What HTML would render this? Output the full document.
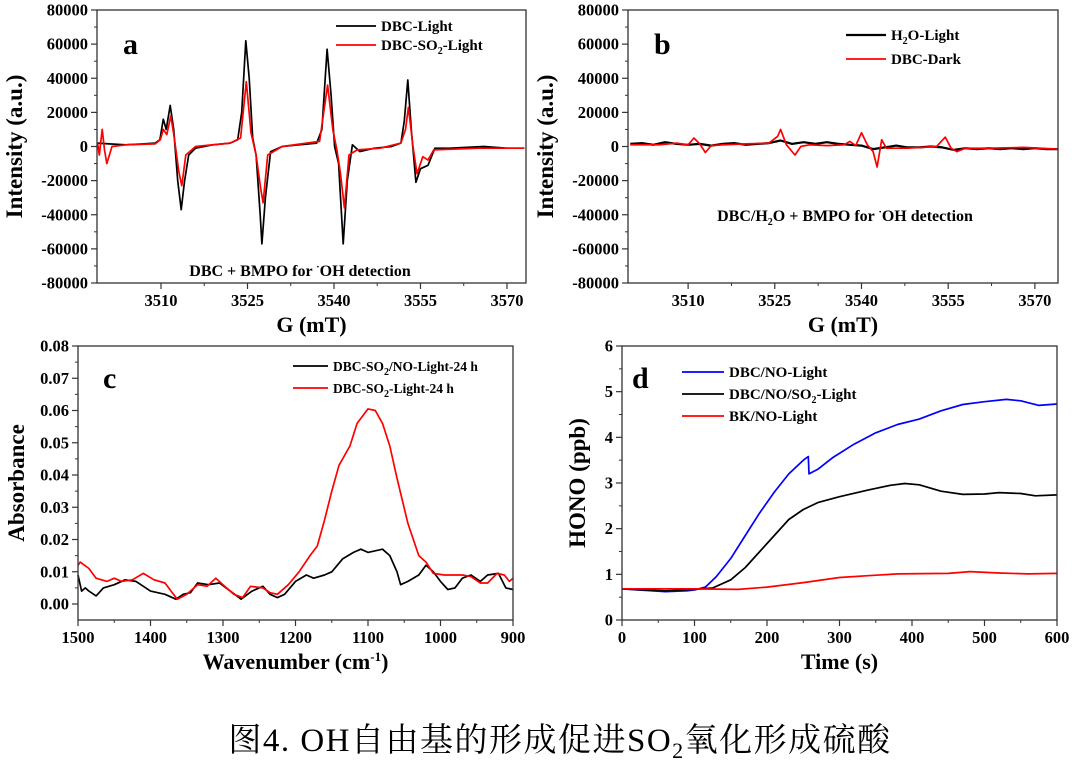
<!DOCTYPE html>
<html><head><meta charset="utf-8">
<style>
body{margin:0;background:#fff;}
svg{display:block;}
text{font-family:"Liberation Serif","Noto Serif CJK SC",serif;font-weight:bold;fill:#000;}
.cap{font-weight:normal;}
</style></head>
<body>
<svg id="fig" width="1080" height="767" viewBox="0 0 1080 767" xmlns="http://www.w3.org/2000/svg">
<text class="cap" x="560" y="751" font-size="33" letter-spacing="1.5" text-anchor="middle">图4. OH自由基的形成促进SO<tspan font-size="22" dy="7">2</tspan><tspan dy="-7">氧化形成硫酸</tspan></text>
</svg>
<script>
// Panel a data
const aLightX=[3499,3501,3504,3507,3509,3509.8,3510.4,3510.9,3511.6,3512.2,3512.9,3513.5,3514.1,3514.8,3516,3519,3522,3523.3,3524,3524.7,3525.3,3525.9,3526.5,3527.2,3527.5,3528.1,3529,3531,3534,3537,3537.9,3538.8,3539.5,3540.1,3540.8,3541.6,3542.3,3543.2,3544.5,3547,3550,3551.6,3552.2,3552.8,3553.4,3554.2,3555,3556.3,3557.5,3560,3566,3570,3573];
const aLightY=[2000,1500,1000,1500,2000,4000,16000,10000,24000,10000,-20000,-37000,-20000,-5000,-1000,1000,2000,4000,20000,62000,40000,5000,-5000,-40000,-57000,-30000,-3000,0,1000,2000,10000,57000,30000,0,-10000,-57000,-20000,1000,-3000,-1000,0,2000,15000,39000,10000,-21000,-13000,-11000,-1000,-1000,0,-1000,-1000];
const aSO2X=[3499,3499.3,3499.8,3500.2,3500.6,3501.5,3504,3509,3509.9,3510.4,3511,3511.7,3512.3,3513.1,3513.6,3514.3,3516,3522,3523.8,3524.8,3525.6,3526.5,3527.3,3527.7,3528.5,3531,3537.5,3538.9,3539.8,3540.5,3541.1,3541.8,3542.6,3544,3548,3551.6,3552.4,3552.9,3553.7,3554.4,3555.4,3556.3,3557.3,3565,3573];
const aSO2Y=[2000,-5000,10000,-2000,-10000,0,1000,1500,4000,10000,7000,18000,5000,-15000,-23000,-5000,0,2000,5000,38000,8000,-5000,-25000,-33000,-5000,0,3000,36000,10000,-2000,-15000,-36000,-5000,-2000,-1000,2000,10000,23000,0,-16000,-6000,-8000,-2000,-1000,-1000];
// Panel b data
const bH2OX=[3500,3502,3504,3506,3508,3510,3512,3514,3516,3518,3520,3522,3524,3526,3528,3530,3532,3534,3536,3538,3540,3542,3544,3546,3548,3550,3552,3554,3556,3558,3560,3562,3564,3566,3568,3570,3572,3574];
const bH2OY=[1500,2000,1000,2500,1500,1000,1500,500,1500,2000,1000,1500,2000,3500,1500,2500,1500,2500,1500,1000,500,-1500,-500,500,-500,-500,0,-500,-2000,-1000,-1500,-1000,-1500,-1000,-1500,-1000,-1500,-1500];
const bDarkX=[3500,3505,3508,3510,3511,3512,3513,3514,3516,3520,3524,3525.5,3526,3527,3528.5,3529.5,3531,3534,3537,3538,3539,3540,3541,3542,3542.7,3543.5,3544.3,3545,3548,3553,3554.5,3555.5,3556.5,3558,3562,3568,3574];
const bDarkY=[1000,1000,2000,1000,5000,1500,-3500,500,1000,1500,2000,6000,10000,1000,-5000,0,1000,500,1000,3000,500,8000,1000,-3000,-12000,4000,-1000,-1000,-1000,0,5500,-1000,-3000,-1000,-1000,-500,-1500];
// Panel c data
const cNOX=[1500,1495,1490,1485,1475,1465,1450,1435,1420,1400,1380,1365,1355,1345,1335,1320,1305,1290,1275,1260,1245,1235,1225,1215,1200,1185,1175,1160,1150,1135,1120,1110,1100,1080,1070,1060,1055,1045,1030,1020,1010,1000,990,980,970,958,945,935,920,910,900];
const cNOY=[.009,.004,.005,.004,.0025,.005,.006,.0075,.007,.004,.003,.0015,.003,.0035,.0065,.006,.0065,.004,.0015,.004,.0055,.003,.002,.003,.007,.009,.008,.009,.01,.014,.016,.017,.016,.017,.015,.01,.006,.007,.009,.012,.01,.007,.0045,.005,.008,.009,.007,.009,.0095,.005,.0045];
const cSO2X=[1500,1497,1485,1475,1460,1450,1440,1425,1410,1395,1380,1370,1363,1350,1335,1322,1310,1300,1285,1273,1262,1245,1235,1225,1210,1195,1180,1170,1160,1150,1140,1125,1115,1100,1090,1080,1070,1060,1045,1030,1020,1010,995,970,958,945,935,922,912,905,900];
const cSO2Y=[.012,.013,.011,.008,.007,.008,.007,.0075,.0095,.0075,.0065,.0035,.0015,.003,.006,.0055,.008,.006,.003,.002,.0055,.005,.0035,.003,.006,.01,.015,.018,.026,.035,.043,.049,.056,.0605,.06,.056,.049,.039,.025,.015,.013,.0095,.009,.009,.0085,.0065,.0065,.0095,.009,.007,.008];
// Panel d data
const dBlueX=[0,30,60,90,100,115,130,150,170,190,210,230,250,257,258,270,290,320,350,380,410,440,470,500,530,550,575,600];
const dBlueY=[.68,.65,.62,.64,.66,.72,.95,1.35,1.85,2.35,2.8,3.2,3.5,3.58,3.2,3.3,3.55,3.85,4.1,4.28,4.4,4.58,4.72,4.78,4.83,4.8,4.7,4.73];
const dBlackX=[0,60,100,125,150,170,190,210,230,250,270,300,340,370,390,410,440,470,500,520,550,570,600];
const dBlackY=[.68,.64,.67,.7,.88,1.15,1.5,1.85,2.2,2.42,2.57,2.7,2.85,2.95,2.99,2.96,2.82,2.75,2.76,2.79,2.77,2.72,2.74];
const dRedX=[0,100,160,200,250,300,350,380,450,480,520,560,600];
const dRedY=[.68,.68,.67,.72,.82,.93,.98,1.01,1.02,1.06,1.03,1.01,1.02];
const epTicks=[3510,3525,3540,3555,3570];
const epYTicks=[-80000,-60000,-40000,-20000,0,20000,40000,60000,80000];
const cXTicks=[1500,1400,1300,1200,1100,1000,900];
const cYTicks=[0,0.01,0.02,0.03,0.04,0.05,0.06,0.07,0.08];
const dXTicks=[0,100,200,300,400,500,600];
const dYTicks=[0,1,2,3,4,5,6];

const NS='http://www.w3.org/2000/svg';
const svg=document.getElementById('fig');
function el(tag,attrs,parent,txt){const e=document.createElementNS(NS,tag);for(const k in attrs)e.setAttribute(k,attrs[k]);if(txt!==undefined)e.textContent=txt;(parent||svg).appendChild(e);return e;}

function panel(o){
  const g=el('g',{});
  
  
  const sx=v=>o.x0+(v-o.xmin)/(o.xmax-o.xmin)*(o.x1-o.x0);
  const sy=v=>o.y1-(v-o.ymin)/(o.ymax-o.ymin)*(o.y1-o.y0);
  o.series.forEach(s=>{
    let d='';s.x.forEach((v,i)=>{d+=(i?'L':'M')+sx(v).toFixed(1)+','+sy(s.y[i]).toFixed(1);});
    const p=el('path',{d:d,fill:'none',stroke:s.color,'stroke-width':s.w||1.7,'stroke-linejoin':'round'},g);
    
    
  });
  const f=el('rect',{x:o.x0,y:o.y0,width:o.x1-o.x0,height:o.y1-o.y0,fill:'none',stroke:'#333','stroke-width':1.3},g);
  
  
  o.xt.forEach(t=>{const x=sx(t);el('line',{x1:x,x2:x,y1:o.y1,y2:o.y1+6,stroke:'#333','stroke-width':1.2},g);
    const tl=el('text',{x:x,y:o.y1+23,'font-size':16.5,'text-anchor':'middle'},g,o.xf?o.xf(t):t);
    
    });
  for(let i=0;i<o.xt.length-1;i++){const m=sx((o.xt[i]+o.xt[i+1])/2);el('line',{x1:m,x2:m,y1:o.y1,y2:o.y1+3,stroke:'#333'},g);}
  o.yt.forEach(t=>{const y=sy(t);el('line',{x1:o.x0-6,x2:o.x0,y1:y,y2:y,stroke:'#333','stroke-width':1.2},g);
    const tl=el('text',{x:o.x0-9,y:y+5.5,'font-size':16.5,'text-anchor':'end'},g,o.yf?o.yf(t):t);
    
    });
  for(let i=0;i<o.yt.length-1;i++){const m=sy((o.yt[i]+o.yt[i+1])/2);el('line',{x1:o.x0-3,x2:o.x0,y1:m,y2:m,stroke:'#333'},g);}
  const xt=el('text',{x:(o.x0+o.x1)/2,y:o.y1+49,'font-size':22,'text-anchor':'middle'},g);xt.innerHTML=o.xtitle;
  
  
  const yx=o.ytx,yy=(o.y0+o.y1)/2;
  const yt=el('text',{x:yx,y:yy,'font-size':23,'text-anchor':'middle',transform:`rotate(-90 ${yx} ${yy})`},g);yt.innerHTML=o.ytitle;
  
  
  const pl=el('text',{x:o.lx,y:o.ly,'font-size':30},g,o.letter);
  
  
  o.legend.forEach((L,i)=>{
    const ly=o.legY+i*o.legDy;
    const ln=el('line',{x1:o.legX,x2:o.legX+o.legW,y1:ly,y2:ly,stroke:L.color,'stroke-width':L.w||1.7},g);
    
    
    const t=el('text',{x:o.legX+o.legW+5,y:ly+5,'font-size':o.legFs||15},g);t.innerHTML=L.label;
    
    
  });
  if(o.note){const n=el('text',{x:o.note.x,y:o.note.y,'font-size':16,'text-anchor':'middle'},g);n.innerHTML=o.note.t;
    
    }
}
const sub=s=>`<tspan font-size="10" dy="4">${s}</tspan><tspan dy="-4">`;
panel({name:'panel-a',x0:97,x1:526,y0:10,y1:283,xmin:3498.9,xmax:3573.3,ymin:-80000,ymax:80000,xt:epTicks,yt:epYTicks,
  xtitle:'G (mT)',ytitle:'Intensity (a.u.)',ytx:22,letter:'a',lx:123,ly:54,
  series:[{name:'dbc-light-line',x:aLightX,y:aLightY,color:'#000'},{name:'dbc-so2-light-line',x:aSO2X,y:aSO2Y,color:'#f00'}],
  legend:[{color:'#000',label:'DBC-Light'},{color:'#f00',label:'DBC-SO'+sub('2')+'-Light</tspan>'}],legX:336,legY:26,legDy:19,legW:40,
  note:{x:300,y:276,t:'DBC + BMPO for <tspan font-size="10" dy="-6">·</tspan><tspan dy="6">OH detection</tspan>'}});
panel({name:'panel-b',x0:628,x1:1058,y0:10,y1:283,xmin:3499.6,xmax:3574,ymin:-80000,ymax:80000,xt:epTicks,yt:epYTicks,
  xtitle:'G (mT)',ytitle:'Intensity (a.u.)',ytx:553,letter:'b',lx:654,ly:54,
  series:[{name:'h2o-light-line',x:bH2OX,y:bH2OY,color:'#000',w:2.2},{name:'dbc-dark-line',x:bDarkX,y:bDarkY,color:'#f00'}],
  legend:[{color:'#000',label:'H'+sub('2')+'O-Light</tspan>',w:2.2},{color:'#f00',label:'DBC-Dark'}],legX:846,legY:35,legDy:24,legW:40,
  note:{x:845,y:221,t:'DBC/H'+sub('2')+'O + BMPO for </tspan><tspan font-size="10" dy="-6">·</tspan><tspan dy="6">OH detection</tspan>'}});
panel({name:'panel-c',x0:78,x1:513,y0:346,y1:620,xmin:1500,xmax:900,ymin:-0.00496,ymax:0.08,xt:cXTicks,yt:cYTicks,yf:t=>t.toFixed(2),
  xtitle:'Wavenumber (cm<tspan font-size="13" dy="-8">-1</tspan><tspan dy="8">)</tspan>',ytitle:'Absorbance',ytx:24,letter:'c',lx:103,ly:388,
  series:[{name:'dbc-so2-no-light-24h-line',x:cNOX,y:cNOY,color:'#000'},{name:'dbc-so2-light-24h-line',x:cSO2X,y:cSO2Y,color:'#f00'}],
  legend:[{color:'#000',label:'DBC-SO'+sub('2')+'/NO-Light-24 h</tspan>'},{color:'#f00',label:'DBC-SO'+sub('2')+'-Light-24 h</tspan>'}],legX:293,legY:366,legDy:22,legW:35,legFs:13.5});
panel({name:'panel-d',x0:622,x1:1057,y0:346,y1:620,xmin:0,xmax:600,ymin:0,ymax:6,xt:dXTicks,yt:dYTicks,
  xtitle:'Time (s)',ytitle:'HONO (ppb)',ytx:585,letter:'d',lx:632,ly:388,
  series:[{name:'dbc-no-light-line',x:dBlueX,y:dBlueY,color:'#00f'},{name:'dbc-no-so2-light-line',x:dBlackX,y:dBlackY,color:'#000'},{name:'bk-no-light-line',x:dRedX,y:dRedY,color:'#f00'}],
  legend:[{color:'#00f',label:'DBC/NO-Light'},{color:'#000',label:'DBC/NO/SO'+sub('2')+'-Light</tspan>'},{color:'#f00',label:'BK/NO-Light'}],legX:682,legY:372,legDy:22,legW:42});
</script>
</body></html>
